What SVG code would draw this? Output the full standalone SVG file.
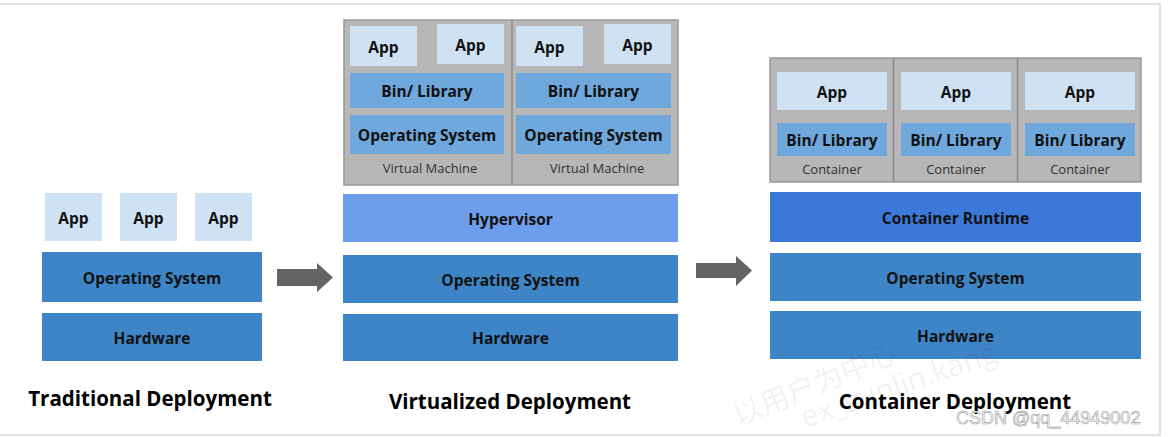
<svg xmlns="http://www.w3.org/2000/svg" width="1169" height="437" viewBox="0 0 1169 437">
<style>
.app{fill:#cfe2f3}
.bin{fill:#6fa8dc}
.os{fill:#3d85c6}
.hyp{fill:#6d9eeb}
.rt{fill:#3c78d8}
.frame{fill:#b7b7b7;stroke:#999999;stroke-width:1.5}
.div{stroke:#8a8a8a;stroke-width:1.5}
.t{font-family:"Open Sans",Lato,sans-serif;font-weight:bold;font-size:15.5px;fill:#111;text-anchor:middle;dominant-baseline:central}
.s{font-family:"Open Sans",Lato,sans-serif;font-size:13px;fill:#333;text-anchor:middle;dominant-baseline:central}
.title{font-family:"Open Sans",Lato,sans-serif;font-weight:bold;font-size:20.5px;fill:#000;text-anchor:middle}
.arrow{fill:#646464}
</style>
<rect x="0" y="0" width="1169" height="437" fill="#ffffff"/>
<rect x="-1" y="4" width="1161" height="431" fill="none" stroke="#dde1e8" stroke-width="2"/>

<g id="traditional">
  <rect class="app" x="45" y="193" width="57" height="48"/><text class="t" x="73.5" y="218">App</text>
  <rect class="app" x="120" y="193" width="57" height="48"/><text class="t" x="148.5" y="218">App</text>
  <rect class="app" x="195" y="193" width="57" height="48"/><text class="t" x="223.5" y="218">App</text>
  <rect class="os" x="42" y="252" width="220" height="50"/><text class="t" x="152" y="278">Operating System</text>
  <rect class="os" x="42" y="313" width="220" height="48"/><text class="t" x="152" y="338">Hardware</text>
  <text class="title" x="150" y="406">Traditional Deployment</text>
</g>

<g id="virtualized">
  <rect class="frame" x="344" y="20" width="334" height="165"/>
  <line class="div" x1="512" y1="20" x2="512" y2="185"/>
  <rect class="app" x="350" y="26" width="67" height="40"/><text class="t" x="383.5" y="47">App</text>
  <rect class="app" x="437" y="24" width="67" height="40"/><text class="t" x="470.5" y="45">App</text>
  <rect class="app" x="516" y="26" width="67" height="40"/><text class="t" x="549.5" y="47">App</text>
  <rect class="app" x="604" y="24" width="67" height="40"/><text class="t" x="637.5" y="45">App</text>
  <rect class="bin" x="350" y="73" width="154" height="35"/><text class="t" x="427" y="91">Bin/ Library</text>
  <rect class="bin" x="516" y="73" width="155" height="35"/><text class="t" x="593.5" y="91">Bin/ Library</text>
  <rect class="bin" x="350" y="115" width="154" height="39"/><text class="t" x="427" y="135">Operating System</text>
  <rect class="bin" x="516" y="115" width="155" height="39"/><text class="t" x="593.5" y="135">Operating System</text>
  <text class="s" x="430" y="168">Virtual Machine</text>
  <text class="s" x="597" y="168">Virtual Machine</text>
  <rect class="hyp" x="343" y="194" width="335" height="48"/><text class="t" x="510.5" y="219">Hypervisor</text>
  <rect class="os" x="343" y="255" width="335" height="48"/><text class="t" x="510.5" y="280">Operating System</text>
  <rect class="os" x="343" y="314" width="335" height="47"/><text class="t" x="510.5" y="338">Hardware</text>
  <text class="title" x="510" y="409">Virtualized Deployment</text>
</g>

<g id="container">
  <rect class="frame" x="770" y="58" width="371" height="124"/>
  <line class="div" x1="893.5" y1="58" x2="893.5" y2="182"/>
  <line class="div" x1="1017.5" y1="58" x2="1017.5" y2="182"/>
  <rect class="app" x="777" y="72" width="110" height="38"/><text class="t" x="832" y="92">App</text>
  <rect class="app" x="901" y="72" width="110" height="38"/><text class="t" x="956" y="92">App</text>
  <rect class="app" x="1025" y="72" width="110" height="38"/><text class="t" x="1080" y="92">App</text>
  <rect class="bin" x="777" y="123" width="110" height="33"/><text class="t" x="832" y="140">Bin/ Library</text>
  <rect class="bin" x="901" y="123" width="110" height="33"/><text class="t" x="956" y="140">Bin/ Library</text>
  <rect class="bin" x="1025" y="123" width="110" height="33"/><text class="t" x="1080" y="140">Bin/ Library</text>
  <text class="s" x="832" y="169">Container</text>
  <text class="s" x="956" y="169">Container</text>
  <text class="s" x="1080" y="169">Container</text>
  <rect class="rt" x="770" y="192" width="371" height="50"/><text class="t" x="955.5" y="218">Container Runtime</text>
  <rect class="os" x="770" y="253" width="371" height="48"/><text class="t" x="955.5" y="278">Operating System</text>
  <rect class="os" x="770" y="311" width="371" height="48"/><text class="t" x="955.5" y="336">Hardware</text>
  <text class="title" x="955" y="409">Container Deployment</text>
</g>

<g id="connectors">
  <polygon class="arrow" points="277,269 317,269 317,263 333,277.5 317,292 317,286 277,286"/>
  <polygon class="arrow" points="696,263 736,263 736,256 752,270.5 736,286 736,278 696,278"/>
</g>

<g id="watermark">
  <text x="738" y="426" transform="rotate(-22 738 426)" font-family="'Noto Sans CJK SC',sans-serif" font-size="29" fill="#000" fill-opacity="0.06">以用户为中心</text>
  <text x="805" y="428" transform="rotate(-19 805 428)" font-family="'Open Sans',sans-serif" font-size="30" fill="#000" fill-opacity="0.06">ex_sunlin.kang</text>
  <text x="956" y="424" font-family="'Liberation Sans',sans-serif" font-size="18" fill="#ffffff" stroke="#9a9a9a" stroke-width="0.6">CSDN @qq_44949002</text>
</g>
</svg>
